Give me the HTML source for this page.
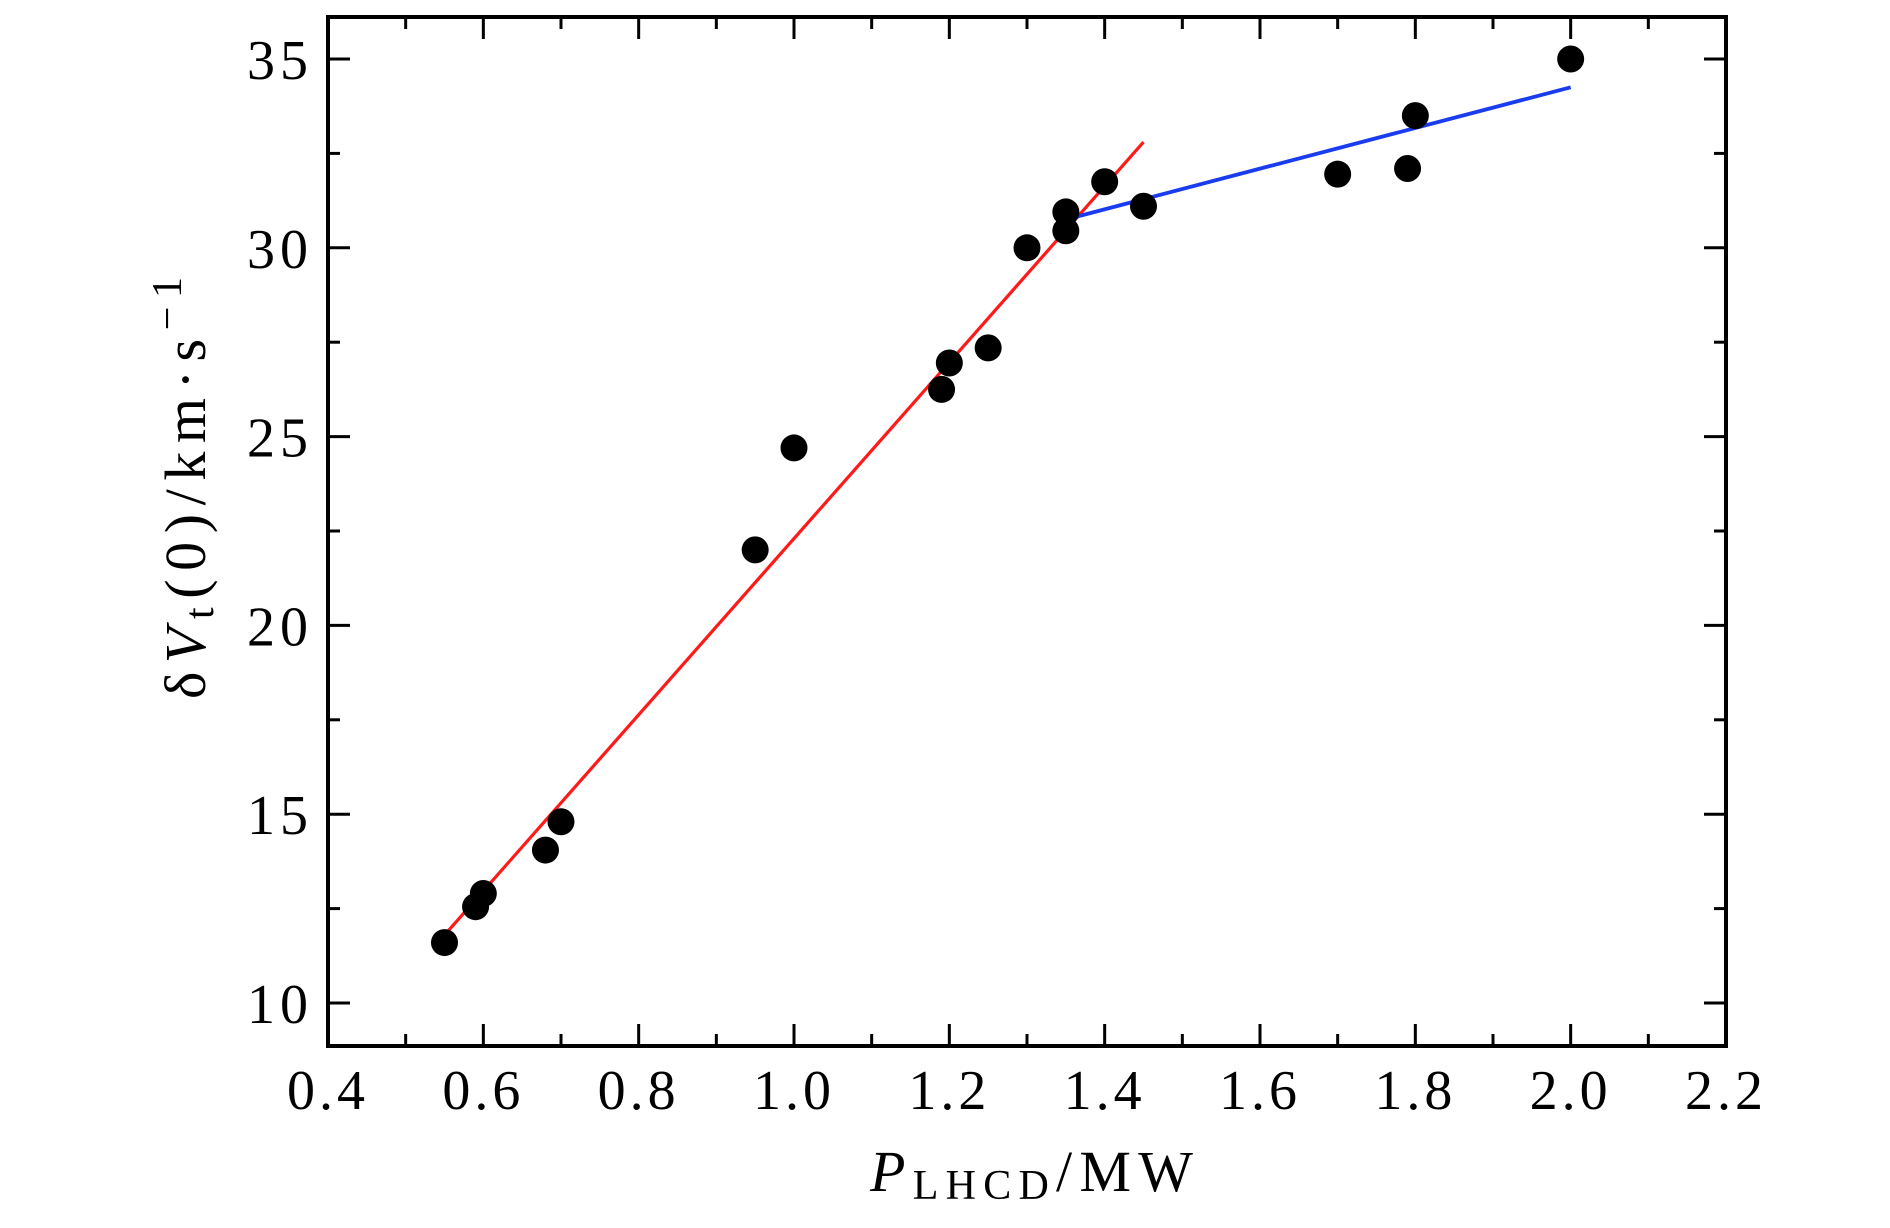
<!DOCTYPE html>
<html><head><meta charset="utf-8"><style>
html,body{margin:0;padding:0;background:#fff;width:1890px;height:1228px;overflow:hidden}
svg text{font-family:"Liberation Serif","DejaVu Serif",serif;fill:#000}
</style></head><body>
<svg id="chart" width="1890" height="1228" viewBox="0 0 1890 1228" xmlns="http://www.w3.org/2000/svg">
<g id="grid"></g>
<g id="lines"></g>
<g id="pts"></g>
<rect x="328" y="17" width="1398" height="1029" fill="none" stroke="#000" stroke-width="4"/>
<text x="870" y="1191" font-size="58" textLength="323" lengthAdjust="spacing"><tspan font-style="italic">P</tspan><tspan font-size="42" dy="8">LHCD</tspan><tspan dy="-8">/MW</tspan></text>
<text transform="translate(205,699) rotate(-90)" font-size="58" textLength="422" lengthAdjust="spacing">δ<tspan font-style="italic">V</tspan><tspan font-size="42" dy="8">t</tspan><tspan dy="-8">(0)/km·s</tspan><tspan font-size="42" dy="-24">−1</tspan></text>
</svg>
<script>
const xs=[0.55,0.59,0.60,0.68,0.70,0.95,1.00,1.19,1.20,1.25,1.30,1.35,1.35,1.40,1.45,1.70,1.79,1.80,2.00];
const ys=[11.6,12.55,12.9,14.05,14.8,22.0,24.7,26.25,26.95,27.35,30.0,30.45,30.95,31.75,31.1,31.95,32.1,33.5,35.0];
const redFitX=[0.55,1.45];
const redFitY=[11.8,32.8];
const blueFitX=[1.35,2.0];
const blueFitY=[30.75,34.25];
const xTicks=["0.4","0.6","0.8","1.0","1.2","1.4","1.6","1.8","2.0","2.2"];
const yTicks=["10","15","20","25","30","35"];
const NS="http://www.w3.org/2000/svg";
const L=328,R=1726,T=17,B=1046;
const X=v=>L+(v-0.4)/1.8*(R-L);
const Y=v=>1003-(v-10)*(1003-59)/25;
function mk(tag,attrs,parent){const e=document.createElementNS(NS,tag);for(const k in attrs)e.setAttribute(k,attrs[k]);parent.appendChild(e);return e;}
const g=document.getElementById('grid');
for(let i=0;i<=18;i++){const v=0.4+i*0.1,x=X(v),len=i%2?12:22;
 let t=mk('line',{x1:x,x2:x,y1:B,y2:B-len,stroke:'#000','stroke-width':3},g);
 
 
 t=mk('line',{x1:x,x2:x,y1:T,y2:T+len,stroke:'#000','stroke-width':3},g);
 
 }
xTicks.forEach(s=>{const t=mk('text',{x:X(parseFloat(s)),y:1109,'text-anchor':'middle','font-size':56,'letter-spacing':4},g);t.textContent=s;
 
 });
for(let i=0;i<=10;i++){const v=10+i*2.5,y=Y(v),len=i%2?12:22;
 let t=mk('line',{x1:L,x2:L+len,y1:y,y2:y,stroke:'#000','stroke-width':3},g);
 
 
 t=mk('line',{x1:R,x2:R-len,y1:y,y2:y,stroke:'#000','stroke-width':3},g);
 
 }
yTicks.forEach(s=>{const t=mk('text',{x:308,y:Y(parseFloat(s))+20,'text-anchor':'end','font-size':56,textLength:61,lengthAdjust:'spacing'},g);t.textContent=s;
 
 });
const lg=document.getElementById('lines');
let rl=mk('line',{x1:X(redFitX[0]),y1:Y(redFitY[0]),x2:X(redFitX[1]),y2:Y(redFitY[1]),stroke:'#ff1a1a','stroke-width':3.2},lg);


let bl=mk('line',{x1:X(blueFitX[0]),y1:Y(blueFitY[0]),x2:X(blueFitX[1]),y2:Y(blueFitY[1]),stroke:'#1a3cf0','stroke-width':3.8},lg);


const pg=document.getElementById('pts');
xs.forEach((v,i)=>{const c=mk('circle',{cx:X(v),cy:Y(ys[i]),r:13.5,fill:'#000'},pg);
 
 });
</script>
</body></html>
